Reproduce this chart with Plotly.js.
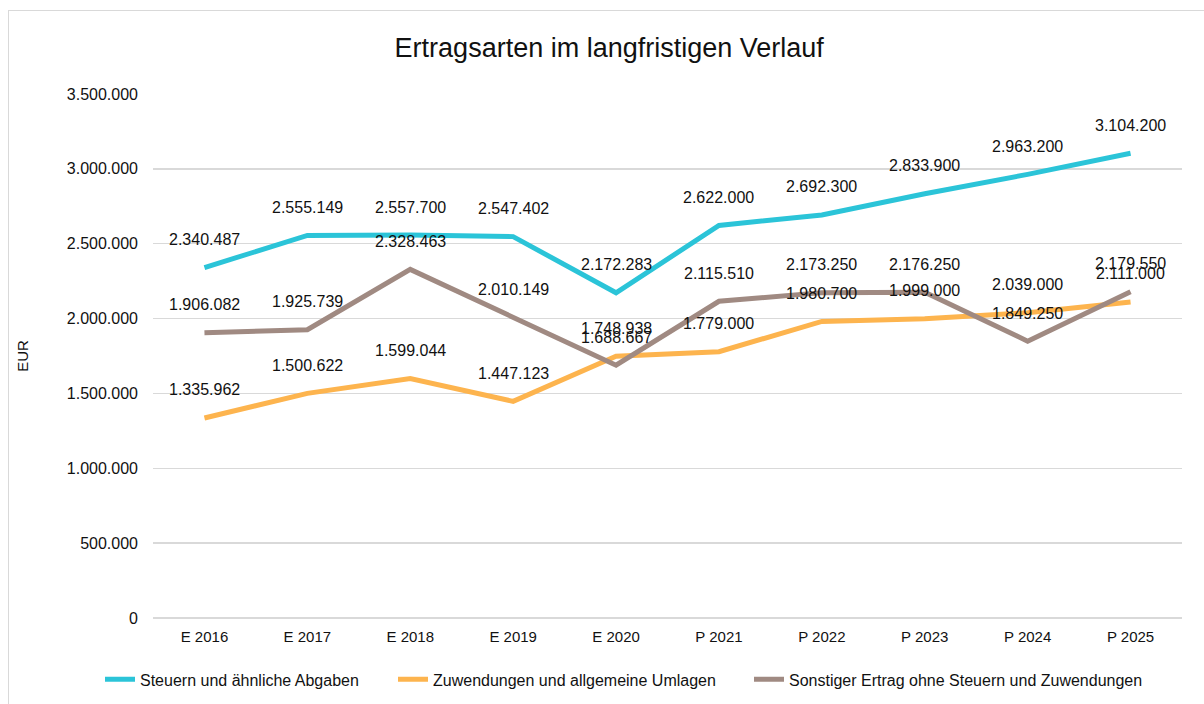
<!DOCTYPE html>
<html>
<head>
<meta charset="utf-8">
<script src="https://cdn.plot.ly/plotly-3.0.1.min.js"></script>
<style>
body{margin:0;padding:0;background:#fff;}
#chart{width:1204px;height:704px;position:absolute;left:0;top:0;}
#frame{position:absolute;left:8px;top:10px;width:1300px;height:800px;border:1.5px solid #d9d9d9;box-sizing:border-box;pointer-events:none;}
</style>
</head>
<body>
<div id="chart"></div>
<div id="frame"></div>
<script>
const categories = ["E 2016","E 2017","E 2018","E 2019","E 2020","P 2021","P 2022","P 2023","P 2024","P 2025"];
const steuern = [2340487,2555149,2557700,2547402,2172283,2622000,2692300,2833900,2963200,3104200];
const zuwendungen = [1335962,1500622,1599044,1447123,1748938,1779000,1980700,1999000,2039000,2111000];
const sonstiger = [1906082,1925739,2328463,2010149,1688667,2115510,2173250,2176250,1849250,2179550];
const seriesNames = ["Steuern und ähnliche Abgaben","Zuwendungen und allgemeine Umlagen","Sonstiger Ertrag ohne Steuern und Zuwendungen"];
const colors = ["#2bc4d8","#fdb44e","#a08a82"];

function fmt(v){ return String(v).replace(/\B(?=(\d{3})+(?!\d))/g, "."); }

const legendIds = ['legend','legend2','legend3'];
const allSeries = [steuern, zuwendungen, sonstiger];
const traces = allSeries.map((vals,i)=>({
  x: categories, y: vals, type:'scatter', mode:'lines', name: seriesNames[i],
  line:{color:colors[i], width:5}, legend: legendIds[i]
}));
const annotations = [];
allSeries.forEach(vals=>{
  vals.forEach((v,j)=>{
    annotations.push({x:categories[j], y:v, text:fmt(v), showarrow:false, yshift:28,
      font:{family:'Liberation Sans, Arial, sans-serif', size:16, color:'#111'}});
  });
});

function leg(px){
  return {orientation:'h', x:px/1204, xanchor:'left', xref:'container', y:0.035, yanchor:'middle', yref:'container',
    font:{size:16}, bgcolor:'rgba(0,0,0,0)', borderwidth:0};
}

const layout = {
  width:1204, height:704,
  margin:{l:153, r:22, t:94, b:86},
  paper_bgcolor:'rgba(0,0,0,0)', plot_bgcolor:'#fff',
  font:{family:'Liberation Sans, Arial, sans-serif', size:16, color:'#111'},
  title:{text:'Ertragsarten im langfristigen Verlauf', x:0.506, xanchor:'center', xref:'container', y:0.933, yanchor:'middle',
    font:{size:27, color:'#111'}},
  xaxis:{type:'category', range:[-0.5, 9.5], showgrid:false, zeroline:false, showline:false, ticks:'', ticklabelstandoff:8,
    tickfont:{size:15}},
  yaxis:{range:[0,3500000], dtick:500000, tickformat:',d', separatethousands:true,
    showgrid:true, gridcolor:'#d9d9d9', gridwidth:1.5, zeroline:true, zerolinecolor:'#d9d9d9', zerolinewidth:1.5,
    showline:false, ticks:'', ticklabelstandoff:14, tickfont:{size:16},
    title:{text:'EUR', standoff:34, font:{size:15}}},
  separators:',.',
  legend: leg(100),
  legend2: leg(393),
  legend3: leg(749),
  annotations: annotations,
  showlegend:true
};
Plotly.newPlot('chart', traces, layout, {displayModeBar:false, staticPlot:true});
</script>
</body>
</html>
